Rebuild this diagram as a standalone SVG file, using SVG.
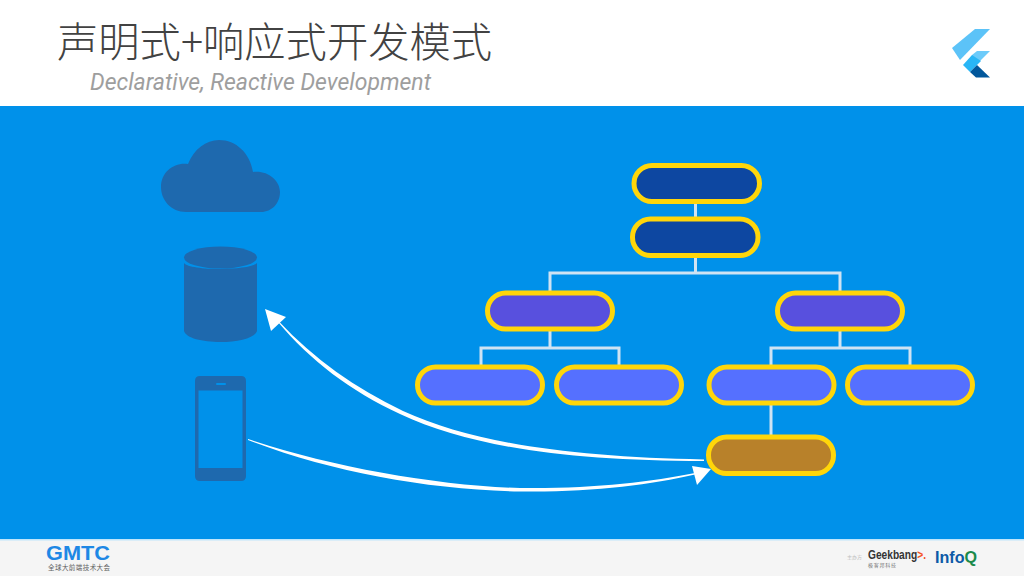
<svg xmlns="http://www.w3.org/2000/svg" width="1024" height="576" viewBox="0 0 1024 576">
<style>
.n{stroke:#FFD60A;stroke-width:5;}
.dark{fill:#0D47A1}.mid{fill:#5850DE}.light{fill:#5570FF}.hot{fill:#B8812A}
.e{fill:none;stroke:#CFE3F3;stroke-width:3}
.ic{fill:#1E69AE}
.arrow{fill:#fff}
text{font-family:"Noto Sans CJK SC","Noto Sans",sans-serif}
</style>
<rect width="1024" height="576" fill="#fff"/>
<rect y="106" width="1024" height="433" fill="#0091EA"/>
<rect y="539" width="1024" height="37" fill="#F5F5F5"/>
<rect y="539" width="1024" height="1.5" fill="#BFE6FB"/>
<text x="57" y="57" font-size="41.300" font-weight="300" fill="#424242">声明式+响应式开发模式</text>
<text x="90" y="90" font-size="23" font-style="italic" fill="#9E9E9E" style="font-family:Roboto,sans-serif">Declarative, Reactive Development</text>
<g id="flutter-logo">
<polygon points="952,48 975,29 990,29 960,60" fill="#5CC3F8"/>
<polygon points="972,55 977,51 990,51 977,64 970,71" fill="#6CCBFA"/>
<polygon points="963,65 972,55 981,61 970,72" fill="#29B6F6"/>
<polygon points="970,72 977,65 990,77.500 976,77.500" fill="#01579B"/>
</g>
<g id="connectors">
<path class="e" d="M695.500 203V218"/>
<path class="e" d="M695.500 257V273M550 291V273H840V291"/>
<path class="e" d="M550 331V348M481 366V348H619V366"/>
<path class="e" d="M840 331V348M771 366V348H910V366"/>
<path class="e" d="M771 405V435"/>
</g>
<g id="node-root"><rect class="n dark" x="634" y="165.500" width="125.500" height="36" rx="18"/></g>
<g id="node-2"><rect class="n dark" x="632.500" y="219" width="125.500" height="36.500" rx="18"/></g>
<g id="node-l"><rect class="n mid" x="487.500" y="293" width="125" height="36" rx="18"/></g>
<g id="node-r"><rect class="n mid" x="777.500" y="293" width="125" height="36" rx="18"/></g>
<g id="node-ll"><rect class="n light" x="417.500" y="367" width="125" height="36" rx="18"/></g>
<g id="node-lr"><rect class="n light" x="556.500" y="367" width="125" height="36" rx="18"/></g>
<g id="node-rl"><rect class="n light" x="709" y="367" width="125" height="36" rx="18"/></g>
<g id="node-rr"><rect class="n light" x="847.500" y="367" width="125" height="36" rx="18"/></g>
<g id="node-hot"><rect class="n hot" x="708.500" y="437" width="125" height="36.500" rx="18"/></g>
<g id="cloud"><path class="ic" d="M186 212C171 212 161 200 161 187C161 172 174 162 188 164C194 149 206 140 219 140C236 140 250 153 253 172C267 170 280 180 280 192C280 203 272 212 261 212Z"/></g>
<g id="database">
<path class="ic" d="M184 263C190 271 250 271 257 263V331C255 338 238 342 220.500 342C202 342 186 338 184 331Z"/>
<ellipse class="ic" cx="220.500" cy="257.500" rx="36.500" ry="11"/>
</g>
<g id="phone">
<path class="ic" fill-rule="evenodd" d="M200 376H241Q246 376 246 381V476Q246 481 241 481H200Q195 481 195 476V381Q195 376 200 376ZM198.500 390.500V468H242.500V390.500Z"/>
<rect x="216" y="383" width="10" height="2" rx="1" fill="#0091EA"/>
</g>
<g id="arrows">
<path class="arrow" d="M704 461C570 461 470 447 400 414C350 391 310 360 278 322L279 321.500C314 359 355 388 403 411C475 444 575 457 704 459.500Z"/>
<polygon class="arrow" points="265,309 286,317 271,331"/>
<path class="arrow" d="M248 439C330 467 440 486 520 488C590 489 650 482 695 473L695 474.500C650 485 590 492.500 520 491.500C430 490 330 472 248 440Z"/>
<polygon class="arrow" points="692,466 711,469 697,485"/>
</g>
<g id="footer">
<text x="46" y="560" font-size="21" font-weight="700" fill="#1E88E5" textLength="64" lengthAdjust="spacingAndGlyphs" style="font-family:'Liberation Sans',sans-serif">GMTC</text>
<text x="48" y="570" font-size="6.500" fill="#616161" textLength="62">全球大前端技术大会</text>
<text x="847" y="559" font-size="5" fill="#BDBDBD">主办方</text>
<text x="868" y="559" font-size="12" font-weight="700" fill="#333" textLength="58" lengthAdjust="spacingAndGlyphs" style="font-family:'Liberation Sans',sans-serif">Geekbang<tspan fill="#F4511E">&gt;.</tspan></text>
<text x="868" y="567" font-size="5" fill="#757575" textLength="28">极客邦科技</text>
<text x="935" y="563" font-size="17" font-weight="700" fill="#0D5AA7" textLength="42" lengthAdjust="spacingAndGlyphs" style="font-family:'Liberation Sans',sans-serif">Info<tspan fill="#1B8A4B">Q</tspan></text>
</g>
</svg>
